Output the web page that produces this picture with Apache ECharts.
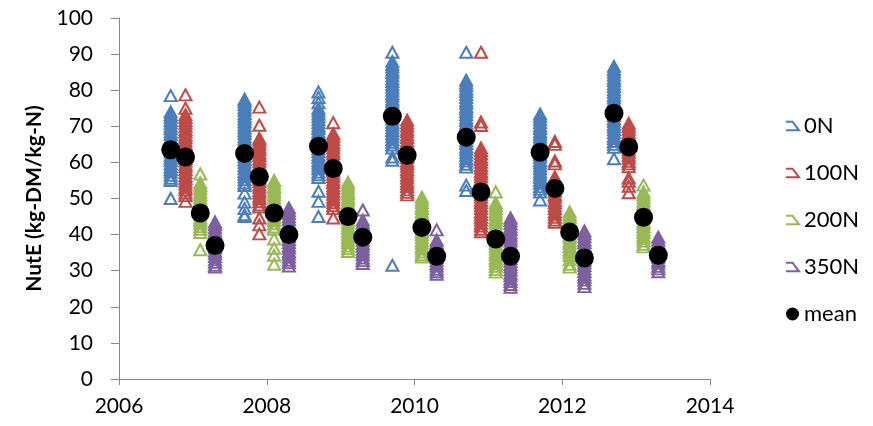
<!DOCTYPE html>
<html><head><meta charset="utf-8">
<script src="https://cdn.jsdelivr.net/npm/echarts@6/dist/echarts.min.js"></script>
<style>html,body{margin:0;padding:0;background:#fff}#c{width:873px;height:426px}</style>
</head><body><div id="c"></div>
<script>
const seriesNames = ['0N', '100N', '200N', '350N'];
const x0N   = [2006.7, 2007.7, 2008.7, 2009.7, 2010.7, 2011.7, 2012.7];
const x100N = [2006.9, 2007.9, 2008.9, 2009.9, 2010.9, 2011.9, 2012.9];
const x200N = [2007.1, 2008.1, 2009.1, 2010.1, 2011.1, 2012.1, 2013.1];
const x350N = [2007.3, 2008.3, 2009.3, 2010.3, 2011.3, 2012.3, 2013.3];

const v0N = [
  [78.5, 74, 73.2, 72.5, 71.6, 70.9, 70, 69.3, 68.4, 67.7, 66.8, 66, 65.3, 64.4, 63.6, 62.9, 62, 61.2, 60.5, 59.6, 58.8, 58, 57.3, 56.4, 55.6, 55, 50],
  [77.5, 76.8, 76, 75.1, 74.4, 73.5, 72.8, 72, 71.2, 70.3, 69.6, 68.8, 68, 67.1, 66.4, 65.5, 64.8, 64, 63.2, 62.3, 61.6, 60.8, 60, 59.1, 58.4, 57.5, 56.8, 56, 55.2, 54.3, 53.6, 51.5, 49, 47.2, 45.5, 45],
  [79.5, 78, 76.5, 75, 74.2, 73.4, 72.6, 71.8, 71, 70.1, 69.4, 68.5, 67.8, 67, 66.2, 65.3, 64.6, 63.8, 63, 62.1, 61.4, 60.5, 59.8, 59, 58.2, 57.3, 56.6, 55.8, 52, 49.2, 45],
  [90.5, 88, 87.2, 86.4, 85.5, 84.8, 84, 83.1, 82.4, 81.6, 80.8, 80, 79.1, 78.4, 77.5, 76.8, 76, 75.2, 74.3, 73.6, 72.8, 72, 71.1, 70.4, 69.6, 68.8, 68, 67.2, 66.3, 65.6, 64.8, 64, 61.5, 60.6, 31.5],
  [90.5, 82.8, 82, 81.2, 80.3, 79.6, 78.8, 78, 77.1, 76.4, 75.5, 74.8, 74, 73.2, 72.3, 71.6, 70.8, 70, 69.1, 68.4, 67.5, 66.8, 66, 65.2, 64.3, 63.6, 62.8, 62, 61.1, 60.4, 59.5, 58.7, 53.7, 52.2],
  [73.4, 72.6, 71.8, 71, 70.1, 69.4, 68.5, 67.8, 67, 66.2, 65.3, 64.6, 63.8, 63, 62.1, 61.4, 60.5, 59.8, 59, 58.2, 57.3, 56.6, 55.8, 55, 54.2, 53.3, 52.6, 51.8, 49.6],
  [86.6, 85.8, 85, 84.2, 83.3, 82.6, 81.8, 81, 80.1, 79.4, 78.5, 77.8, 77, 76.2, 75.3, 74.6, 73.8, 73, 72.1, 71.4, 70.5, 69.8, 69, 68.2, 67.3, 66.6, 65.8, 65, 64.2, 61]
];
const v100N = [
  [78.7, 75, 73.2, 72.4, 71.6, 70.8, 70, 69.1, 68.4, 67.5, 66.8, 66, 65.2, 64.3, 63.6, 62.8, 62, 61.1, 60.4, 59.5, 58.8, 58, 57.2, 56.3, 55.6, 54.8, 54, 53.1, 52.4, 51.5, 50.8, 49.2],
  [75.3, 70.3, 66.7, 65.9, 65.1, 64.2, 63.5, 62.6, 61.9, 61, 60.3, 59.4, 58.7, 57.8, 57.1, 56.3, 55.4, 54.7, 53.8, 53.1, 52.2, 51.5, 50.6, 49.9, 49.1, 48.2, 47.6, 44.6, 42.7, 40.2],
  [71, 68, 67.2, 66.4, 65.5, 64.8, 64, 63.1, 62.4, 61.5, 60.8, 60, 59.2, 58.3, 57.6, 56.8, 56, 55.1, 54.4, 53.5, 52.8, 52, 51.2, 50.3, 49.6, 48.8, 48, 47.2, 44.6],
  [71.7, 70.9, 70.1, 69.2, 68.5, 67.6, 66.9, 66, 65.3, 64.5, 63.6, 62.9, 62, 61.3, 60.4, 59.7, 58.9, 58, 57.3, 56.4, 55.7, 54.8, 54.1, 53.3, 52.4, 51.7, 51],
  [90.5, 71.2, 70.2, 64, 63.2, 62.4, 61.5, 60.8, 60, 59.1, 58.4, 57.5, 56.8, 56, 55.2, 54.3, 53.6, 52.8, 52, 51.1, 50.4, 49.5, 48.8, 48, 47.2, 46.3, 45.6, 44.8, 44, 43.1, 42.4, 41.5, 40.8],
  [65.8, 65, 60.4, 59.6, 56, 55.2, 54.3, 53.6, 52.8, 52, 51.1, 50.4, 49.5, 48.8, 48, 47.2, 46.3, 45.6, 44.8, 44, 43.4],
  [70.8, 70, 69.2, 68.3, 67.6, 66.8, 66, 65.1, 64.4, 63.5, 62.8, 62, 61.2, 60.3, 59.6, 58.8, 55.7, 54.8, 53.4, 51.6]
];
const v200N = [
  [56.8, 54.3, 53.5, 52.7, 51.8, 51.1, 50.2, 49.5, 48.7, 47.8, 47.1, 46.2, 45.5, 44.6, 43.9, 43.1, 42.2, 41.5, 40.6, 35.8],
  [55, 54.2, 53.3, 52.6, 51.8, 51, 50.1, 49.4, 48.5, 47.8, 47, 46.2, 45.3, 44.6, 43.8, 43, 42.1, 41.5, 38.8, 36.2, 34.3, 31.8],
  [54.5, 53.7, 52.9, 52, 51.3, 50.4, 49.7, 48.9, 48, 47.3, 46.4, 45.7, 44.8, 44.1, 43.3, 42.4, 41.7, 40.8, 40.1, 39.2, 38.5, 37.7, 36.8, 36.1, 35.3],
  [50.4, 49.6, 48.8, 47.9, 47.2, 46.3, 45.6, 44.8, 44, 43.1, 42.4, 41.5, 40.8, 40, 39.2, 38.3, 37.6, 36.7, 36, 35.2, 34.4, 33.8],
  [51.8, 48.8, 48, 47.2, 46.3, 45.6, 44.7, 44, 43.2, 42.3, 41.6, 40.7, 40, 39.2, 38.3, 37.6, 36.8, 36, 35.1, 34.4, 33.5, 32.8, 32, 31.2, 30.3, 29.6],
  [46.3, 45.5, 44.7, 43.8, 43.1, 42.2, 41.5, 40.7, 39.8, 39.1, 38.2, 37.5, 36.7, 35.8, 35.1, 34.2, 33, 31.8, 31],
  [53.7, 51.8, 51, 50.2, 49.3, 48.6, 47.7, 47, 46.2, 45.3, 44.6, 43.7, 43, 42.2, 41.3, 40.6, 39.7, 39, 38.2, 37.3, 36.6]
];
const v350N = [
  [43.5, 42.7, 41.9, 41, 40.3, 39.4, 38.7, 37.9, 37, 36.3, 35.4, 34.7, 33.9, 33, 32.3, 31.5, 31],
  [47.4, 46.6, 45.8, 44.9, 44.2, 43.3, 42.6, 41.8, 40.9, 40.2, 39.3, 38.6, 37.8, 36.9, 36.2, 35.3, 34.6, 33.8, 32.9, 32.2, 31.3],
  [46.8, 44, 43.2, 42.4, 41.5, 40.8, 39.9, 39.2, 38.4, 37.5, 36.8, 35.9, 35.2, 34.4, 33.5, 32.8, 32],
  [41.3, 38.5, 37.7, 36.9, 36, 35.3, 34.4, 33.7, 32.9, 32, 31.3, 30.4, 29.7, 29],
  [44.6, 43.8, 43, 42.1, 41.4, 40.5, 39.8, 39, 38.2, 37.3, 36.6, 35.7, 35, 34.2, 33.3, 32.6, 31.7, 31, 30.2, 29.3, 28.6, 27.7, 27, 26.2, 25.4],
  [41, 40.2, 39.4, 38.5, 37.8, 36.9, 36.2, 35.4, 34.5, 33.8, 32.9, 32.2, 31.4, 30.5, 29.8, 28.9, 28.2, 27.4, 26.5, 25.6],
  [39.3, 38.5, 37.7, 36.8, 36.1, 35.2, 34.5, 33.7, 32.8, 32.1, 31.2, 30.5, 29.7]
];
const mean0N   = [63.5, 62.5, 64.5, 72.8, 67, 62.8, 73.6];
const mean100N = [61.5, 56, 58.3, 62, 51.8, 52.8, 64.3];
const mean200N = [46, 46, 45, 42, 38.8, 40.7, 44.8];
const mean350N = [37, 40, 39.3, 34, 34, 33.5, 34.3];

const yTicks = [0, 10, 20, 30, 40, 50, 60, 70, 80, 90, 100];
const xTicks = [2006, 2008, 2010, 2012, 2014];

function pts(xs, vals) {
  const out = [];
  xs.forEach((x, i) => vals[i].forEach(v => out.push([x, v])));
  return out;
}
const meanPts = [];
[[x0N, mean0N], [x100N, mean100N], [x200N, mean200N], [x350N, mean350N]].forEach(([xs, ms]) => {
  xs.forEach((x, i) => meanPts.push([x, ms[i]]));
});

const colors = ['#4A7EBB', '#BE4B48', '#98B954', '#7D60A0'];
const FONT = 'Lato';
const LEG_ICON = 'path://M0,0 L6,0 L12,8 L0,8';
const tri = (name, data, color) => ({
  name, type: 'scatter', data,
  symbol: 'triangle', symbolSize: [12, 11],
  itemStyle: { color: 'rgba(255,255,255,0)', borderColor: color, borderWidth: 2, opacity: 1 },
  emphasis: { disabled: true }
});

const chart = echarts.init(document.getElementById('c'), null, { renderer: 'canvas' });
chart.setOption({
  animation: false,
  grid: { left: 119, right: 163, top: 18, bottom: 47 },
  legend: {
    orient: 'vertical', left: 780, top: 110, itemGap: 25,
    itemWidth: 13, itemHeight: 14,
    textStyle: { fontFamily: FONT, fontSize: 22, color: '#000' },
    data: [
      { name: '0N', icon: LEG_ICON }, { name: '100N', icon: LEG_ICON },
      { name: '200N', icon: LEG_ICON }, { name: '350N', icon: LEG_ICON },
      { name: 'mean', icon: 'circle' }
    ]
  },
  xAxis: {
    type: 'value', min: xTicks[0], max: xTicks[xTicks.length - 1], interval: 2,
    axisLine: { lineStyle: { color: '#868686', width: 1 } },
    axisTick: { show: true, length: 6, lineStyle: { color: '#868686' } },
    splitLine: { show: false },
    axisLabel: { fontFamily: FONT, fontSize: 21, color: '#000', margin: 17, formatter: v => String(v) }
  },
  yAxis: {
    type: 'value', min: yTicks[0], max: yTicks[yTicks.length - 1], interval: 10,
    name: 'NutE (kg-DM/kg-N)', nameLocation: 'middle', nameGap: 74,
    nameTextStyle: { fontFamily: FONT, fontSize: 21, fontWeight: 'bold', color: '#000' },
    axisLine: { show: true, lineStyle: { color: '#868686', width: 1 } },
    axisTick: { show: true, length: 8, lineStyle: { color: '#868686' } },
    splitLine: { show: false },
    axisLabel: { fontFamily: FONT, fontSize: 21, color: '#000', margin: 26 }
  },
  series: [
    tri(seriesNames[0], pts(x0N, v0N), colors[0]),
    tri(seriesNames[1], pts(x100N, v100N), colors[1]),
    tri(seriesNames[2], pts(x200N, v200N), colors[2]),
    tri(seriesNames[3], pts(x350N, v350N), colors[3]),
    { name: 'mean', type: 'scatter', data: meanPts, symbol: 'circle', symbolSize: 19,
      itemStyle: { color: '#000', opacity: 1 }, z: 5, emphasis: { disabled: true } }
  ]
});
</script></body></html>
